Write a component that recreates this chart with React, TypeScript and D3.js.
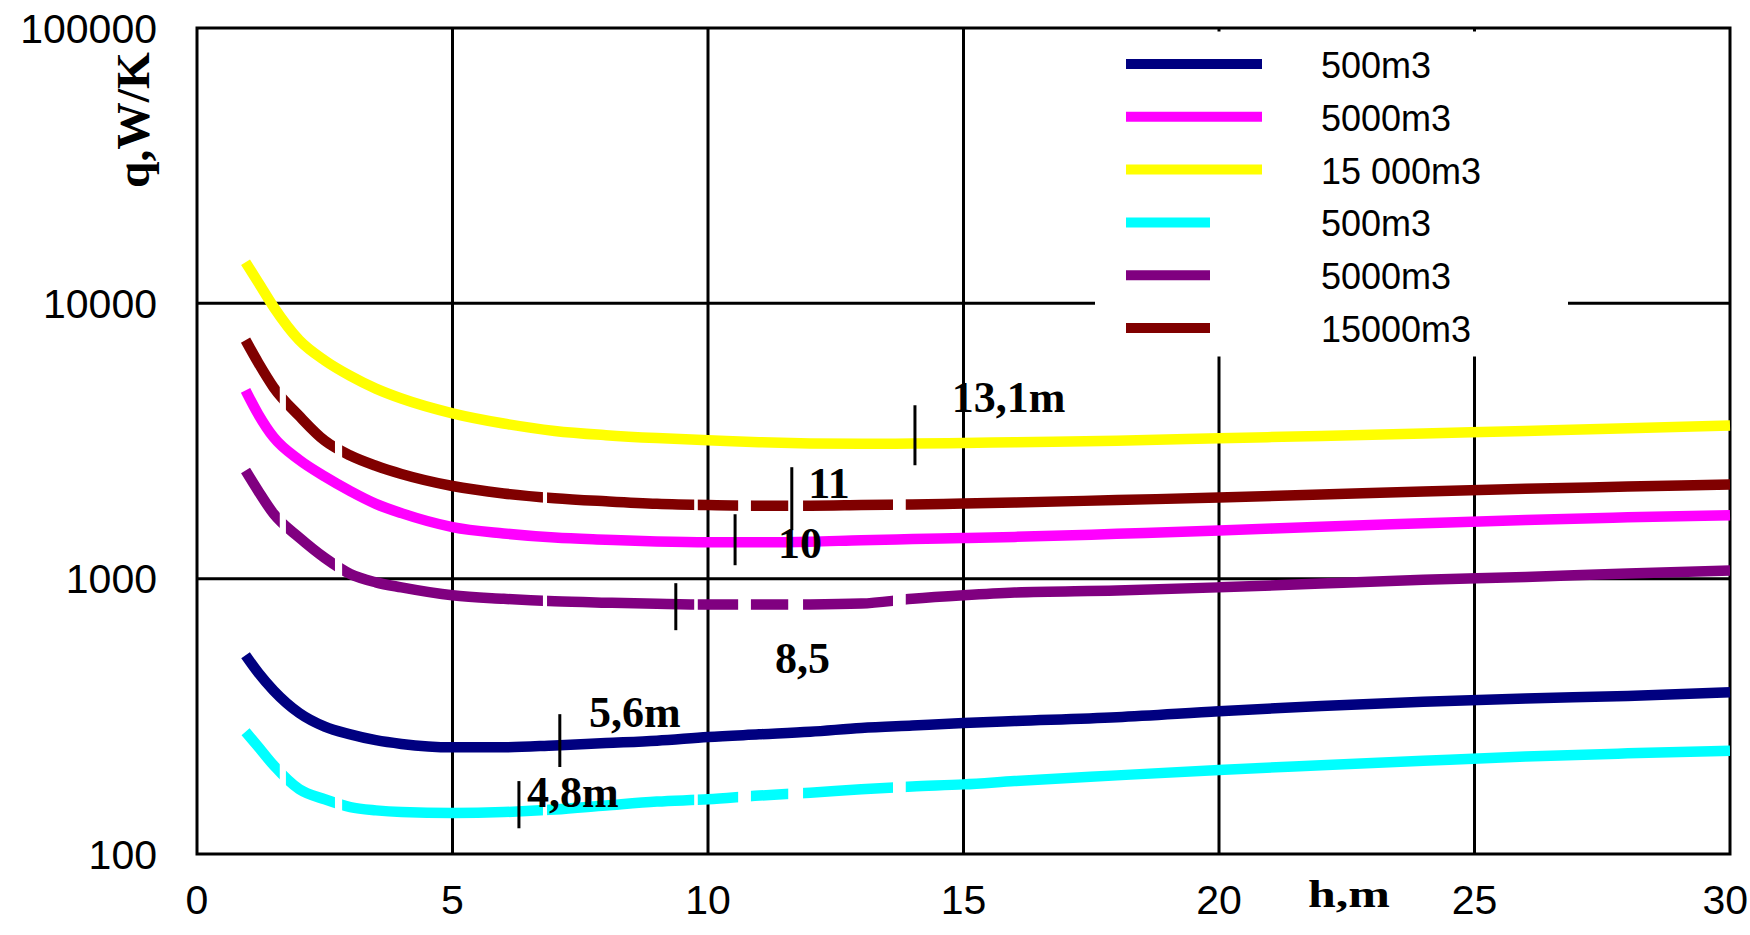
import React from 'react';
import * as d3 from 'd3';

// Height of the building h (m) at which each curve is sampled
const heightsM = [0.95, 1.2, 1.5, 2, 2.5, 3, 3.5, 4, 5, 6, 7, 8, 9, 10, 11, 12, 13, 14, 15, 16, 18, 20, 22, 24, 26, 28, 30];

// Heat loss q (W/K), solid curves
const q500Solid = [527, 455, 392, 325, 290, 272, 259, 251, 244, 244, 248, 253, 258, 266, 272, 278, 287, 293, 299, 304, 314, 330, 345, 357, 367, 375, 387];
const q5000Solid = [4830, 3950, 3260, 2700, 2350, 2080, 1870, 1730, 1540, 1460, 1410, 1385, 1365, 1356, 1356, 1362, 1380, 1392, 1405, 1418, 1455, 1495, 1545, 1590, 1635, 1670, 1700];
const q15000Solid = [14100, 11900, 9700, 7350, 6200, 5450, 4900, 4510, 3985, 3660, 3440, 3320, 3240, 3185, 3130, 3100, 3090, 3095, 3110, 3130, 3170, 3235, 3300, 3370, 3440, 3515, 3597];

// Heat loss q (W/K), dashed curves
const q500Dashed = [278, 245, 210, 172, 158, 148, 144, 142, 141, 142, 145, 150, 155, 158, 163, 167, 172, 176, 179, 184, 193, 202, 210, 218, 226, 232, 237];
const q5000Dashed = [2470, 2080, 1720, 1411, 1190, 1040, 970, 930, 870, 845, 828, 818, 810, 805, 805, 806, 812, 845, 870, 890, 905, 930, 960, 990, 1015, 1045, 1070];
const q15000Dashed = [7350, 6080, 4950, 3900, 3170, 2800, 2570, 2400, 2170, 2040, 1960, 1910, 1870, 1850, 1840, 1840, 1850, 1860, 1875, 1890, 1930, 1970, 2020, 2075, 2120, 2160, 2200];

// Intervals of h where the dashed curves are interrupted
const dashGaps: [number, number][] = [
  [1.62, 1.74], [2.70, 2.84], [6.77, 6.85], [9.73, 9.80], [10.59, 10.84], [11.57, 11.86], [13.62, 13.87],
];

const legendLabels = ['500m3', '5000m3', '15 000m3', '500m3', '5000m3', '15000m3'];
const seriesColors = ['#000080', '#FF00FF', '#FFFF00', '#00FFFF', '#800080', '#800000'];
const seriesDashed = [false, false, false, true, true, true];
const seriesValues = [q500Solid, q5000Solid, q15000Solid, q500Dashed, q5000Dashed, q15000Dashed];

// Optimum-height markers: position, extent and annotation
const markerH = [14.05, 11.64, 10.53, 9.37, 7.1, 6.3];
const markerQLow = [2582, 1500, 1119, 650, 207, 124];
const markerQHigh = [4264, 2540, 1714, 963, 322, 184];
const markerText = ['13,1m', '11', '10', '8,5', '5,6m', '4,8m'];
const markerTextH = [14.77, 11.96, 11.37, 11.31, 7.67, 6.46];
const markerTextQ = [4020, 1960, 1187, 454, 289, 148];

const xTicks = [0, 5, 10, 15, 20, 25, 30];
const yTicks = [100, 1000, 10000, 100000];

const SANS = '"Liberation Sans", Arial, sans-serif';
const SERIF = '"Liberation Serif", "Times New Roman", serif';

export default function App() {
  const W = 1750;
  const H = 935;
  const left = 197, right = 1730, top = 28, bottom = 854;

  const x = d3.scaleLinear().domain([0, 30]).range([left, right]);
  const y = d3.scaleLog().domain([100, 100000]).range([bottom, top]);

  const line = d3
    .line<[number, number]>()
    .x((d) => x(d[0]))
    .y((d) => y(d[1]))
    .curve(d3.curveMonotoneX);

  // dash pieces = complement of the gaps over the full x domain
  const dashPieces: [number, number][] = [];
  let start = 0;
  dashGaps.forEach(([a, b]) => {
    dashPieces.push([start, a]);
    start = b;
  });
  dashPieces.push([start, 30]);

  const legendX0 = 1126;
  const legendRowY = (i: number) => 64 + i * 52.8;
  const lastTick = xTicks[xTicks.length - 1];

  return (
    <svg
      width={W}
      height={H}
      viewBox={`0 0 ${W} ${H}`}
      style={{ position: 'absolute', left: 0, top: 0, background: '#fff' }}
    >
      <defs>
        <clipPath id="dash-clip">
          {dashPieces.map(([a, b], i) => (
            <rect key={i} x={x(a)} y={0} width={x(b) - x(a)} height={H} />
          ))}
        </clipPath>
      </defs>
      <rect x={0} y={0} width={W} height={H} fill="#fff" />

      {/* grid */}
      {xTicks.slice(1, -1).map((t) => (
        <line key={`gx${t}`} x1={x(t)} x2={x(t)} y1={top} y2={bottom} stroke="#000" strokeWidth={3} />
      ))}
      {yTicks.slice(1, -1).map((t) => (
        <line key={`gy${t}`} x1={left} x2={right} y1={y(t)} y2={y(t)} stroke="#000" strokeWidth={3} />
      ))}
      <rect x={left} y={top} width={right - left} height={bottom - top} fill="none" stroke="#000" strokeWidth={3} />

      {/* legend background */}
      <rect x={1095} y={31.5} width={473} height={325} fill="#fff" />

      {/* curves */}
      {seriesValues.map((vals, i) => {
        const pts = heightsM.map((h, k) => [h, vals[k]] as [number, number]);
        return (
          <path
            key={`s${i}`}
            d={line(pts) || ''}
            fill="none"
            stroke={seriesColors[i]}
            strokeWidth={10.5}
            strokeLinejoin="round"
            clipPath={seriesDashed[i] ? 'url(#dash-clip)' : undefined}
          />
        );
      })}

      {/* optimum markers */}
      {markerH.map((h, i) => (
        <line
          key={`m${i}`}
          x1={x(h)}
          x2={x(h)}
          y1={y(markerQHigh[i])}
          y2={y(markerQLow[i])}
          stroke="#000"
          strokeWidth={3}
        />
      ))}
      {markerText.map((t, i) => (
        <text
          key={`mt${i}`}
          x={x(markerTextH[i])}
          y={y(markerTextQ[i])}
          fontFamily={SERIF}
          fontWeight="bold"
          fontSize={44}
          fill="#000"
        >
          {t}
        </text>
      ))}

      {/* legend */}
      {legendLabels.map((lab, i) => (
        <g key={`l${i}`}>
          <line
            x1={legendX0}
            x2={seriesDashed[i] ? legendX0 + 84 : legendX0 + 136}
            y1={legendRowY(i)}
            y2={legendRowY(i)}
            stroke={seriesColors[i]}
            strokeWidth={10}
          />
          <text x={1321} y={legendRowY(i) + 14} fontFamily={SANS} fontSize={36} fill="#000">
            {lab}
          </text>
        </g>
      ))}

      {/* axis tick labels */}
      {yTicks.map((t) => (
        <text key={`yt${t}`} x={157} y={y(t) + 14.5} textAnchor="end" fontFamily={SANS} fontSize={41} fill="#000">
          {t}
        </text>
      ))}
      {xTicks.map((t) => {
        const isLast = t === lastTick;
        return (
          <text
            key={`xt${t}`}
            x={isLast ? W - 2 : x(t)}
            y={914}
            textAnchor={isLast ? 'end' : 'middle'}
            fontFamily={SANS}
            fontSize={41}
            fill="#000"
          >
            {t}
          </text>
        );
      })}

      {/* axis titles */}
      <text
        x={1308}
        y={907}
        fontFamily={SERIF}
        fontWeight="bold"
        fontSize={38}
        textLength={82}
        lengthAdjust="spacingAndGlyphs"
        fill="#000"
      >
        h,m
      </text>
      <text
        transform="translate(149,120) rotate(-90)"
        textAnchor="middle"
        fontFamily={SERIF}
        fontWeight="bold"
        fontSize={46}
        textLength={136}
        lengthAdjust="spacingAndGlyphs"
        fill="#000"
      >
        q,W/K
      </text>
    </svg>
  );
}
